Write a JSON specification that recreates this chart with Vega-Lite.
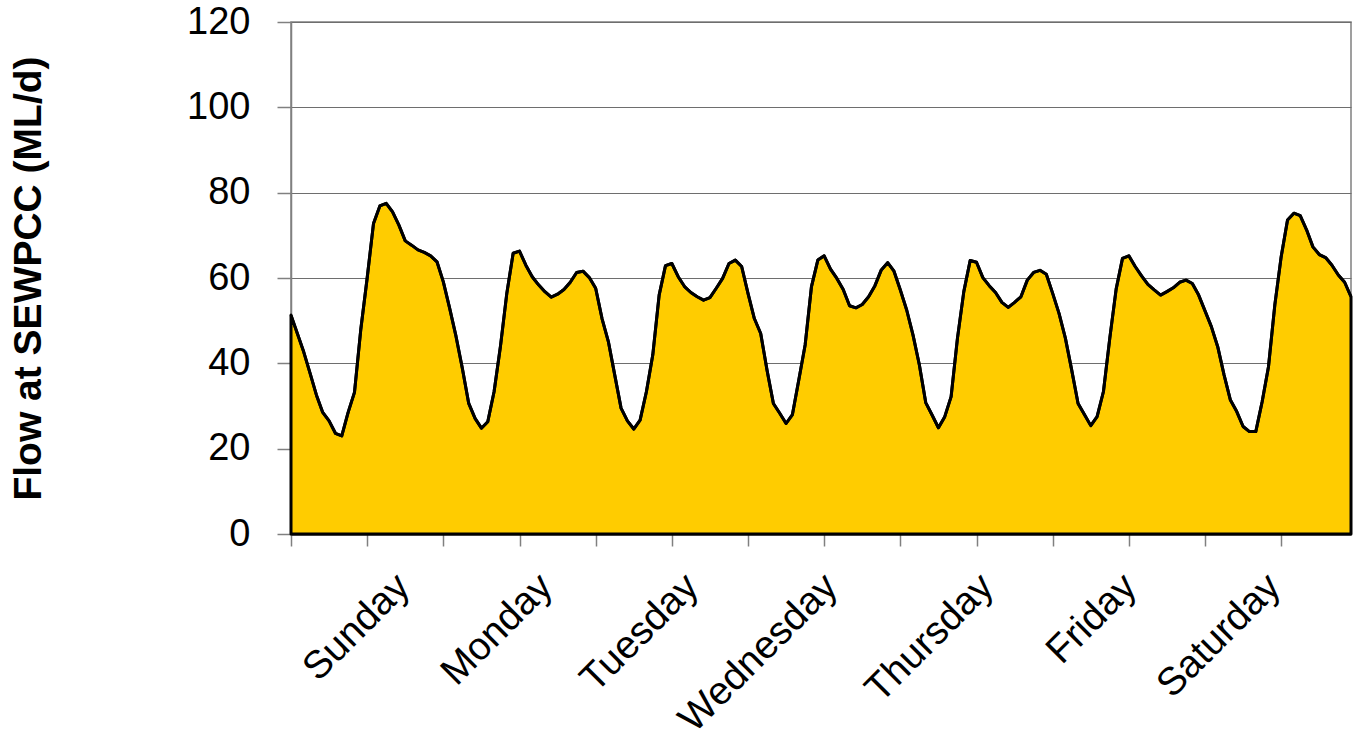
{
  "$schema": "https://vega.github.io/schema/vega-lite/v6.json",
  "autosize": {"type": "none"},
  "width": 1060,
  "height": 512,
  "padding": {"left": 291, "top": 22, "right": 9, "bottom": 213},
  "background": "white",
  "config": {"view": {"stroke": "#808080", "strokeWidth": 1.5}, "font": "Liberation Sans"},
  "data": {"values": [
    {"h":0,"flow":51.3},{"h":1,"flow":47},{"h":2,"flow":42.7},{"h":3,"flow":37.7},{"h":4,"flow":32.6},{"h":5,"flow":28.5},{"h":6,"flow":26.5},{"h":7,"flow":23.6},{"h":8,"flow":23},{"h":9,"flow":28.5},
    {"h":10,"flow":33.2},{"h":11,"flow":48},{"h":12,"flow":60},{"h":13,"flow":72.8},{"h":14,"flow":76.9},{"h":15,"flow":77.5},{"h":16,"flow":75.5},{"h":17,"flow":72.4},{"h":18,"flow":68.7},{"h":19,"flow":67.7},
    {"h":20,"flow":66.6},{"h":21,"flow":66},{"h":22,"flow":65.2},{"h":23,"flow":63.8},{"h":24,"flow":59.1},{"h":25,"flow":52.9},{"h":26,"flow":46.3},{"h":27,"flow":38.8},{"h":28,"flow":30.6},{"h":29,"flow":27.1},
    {"h":30,"flow":24.8},{"h":31,"flow":26.3},{"h":32,"flow":33.4},{"h":33,"flow":44},{"h":34,"flow":56.4},{"h":35,"flow":65.8},{"h":36,"flow":66.3},{"h":37,"flow":63},{"h":38,"flow":60.3},{"h":39,"flow":58.4},
    {"h":40,"flow":56.8},{"h":41,"flow":55.5},{"h":42,"flow":56.2},{"h":43,"flow":57.3},{"h":44,"flow":59},{"h":45,"flow":61.3},{"h":46,"flow":61.6},{"h":47,"flow":60.1},{"h":48,"flow":57.6},{"h":49,"flow":50.5},
    {"h":50,"flow":45.1},{"h":51,"flow":37.3},{"h":52,"flow":29.5},{"h":53,"flow":26.5},{"h":54,"flow":24.6},{"h":55,"flow":26.7},{"h":56,"flow":33.4},{"h":57,"flow":42},{"h":58,"flow":56},{"h":59,"flow":62.9},
    {"h":60,"flow":63.4},{"h":61,"flow":60.3},{"h":62,"flow":58},{"h":63,"flow":56.6},{"h":64,"flow":55.6},{"h":65,"flow":54.8},{"h":66,"flow":55.4},{"h":67,"flow":57.6},{"h":68,"flow":59.9},{"h":69,"flow":63.4},
    {"h":70,"flow":64.2},{"h":71,"flow":62.7},{"h":72,"flow":56.4},{"h":73,"flow":50.5},{"h":74,"flow":47},{"h":75,"flow":38.4},{"h":76,"flow":30.6},{"h":77,"flow":28.3},{"h":78,"flow":25.9},{"h":79,"flow":28},
    {"h":80,"flow":36.1},{"h":81,"flow":44.3},{"h":82,"flow":58},{"h":83,"flow":64.2},{"h":84,"flow":65.2},{"h":85,"flow":62.1},{"h":86,"flow":59.9},{"h":87,"flow":57.3},{"h":88,"flow":53.5},{"h":89,"flow":53},
    {"h":90,"flow":53.8},{"h":91,"flow":55.6},{"h":92,"flow":58.2},{"h":93,"flow":61.9},{"h":94,"flow":63.6},{"h":95,"flow":61.6},{"h":96,"flow":57.2},{"h":97,"flow":52.5},{"h":98,"flow":46.6},{"h":99,"flow":39.6},
    {"h":100,"flow":30.8},{"h":101,"flow":27.9},{"h":102,"flow":24.9},{"h":103,"flow":27.5},{"h":104,"flow":32.2},{"h":105,"flow":45.9},{"h":106,"flow":56.8},{"h":107,"flow":64.1},{"h":108,"flow":63.7},{"h":109,"flow":60.1},
    {"h":110,"flow":58.2},{"h":111,"flow":56.6},{"h":112,"flow":54.3},{"h":113,"flow":53.1},{"h":114,"flow":54.3},{"h":115,"flow":55.6},{"h":116,"flow":59.5},{"h":117,"flow":61.3},{"h":118,"flow":61.8},{"h":119,"flow":60.9},
    {"h":120,"flow":56.4},{"h":121,"flow":51.7},{"h":122,"flow":45.9},{"h":123,"flow":38.4},{"h":124,"flow":30.6},{"h":125,"flow":28},{"h":126,"flow":25.4},{"h":127,"flow":27.5},{"h":128,"flow":33.4},{"h":129,"flow":45.9},
    {"h":130,"flow":57.4},{"h":131,"flow":64.6},{"h":132,"flow":65.2},{"h":133,"flow":62.7},{"h":134,"flow":60.5},{"h":135,"flow":58.5},{"h":136,"flow":57.2},{"h":137,"flow":56},{"h":138,"flow":56.8},{"h":139,"flow":57.7},
    {"h":140,"flow":59},{"h":141,"flow":59.5},{"h":142,"flow":58.7},{"h":143,"flow":56},{"h":144,"flow":52.3},{"h":145,"flow":48.6},{"h":146,"flow":43.9},{"h":147,"flow":37.3},{"h":148,"flow":31.4},{"h":149,"flow":28.7},
    {"h":150,"flow":25.2},{"h":151,"flow":24},{"h":152,"flow":24},{"h":153,"flow":31},{"h":154,"flow":39.2},{"h":155,"flow":53.7},{"h":156,"flow":65},{"h":157,"flow":73.6},{"h":158,"flow":75.2},{"h":159,"flow":74.6},
    {"h":160,"flow":71.3},{"h":161,"flow":67.3},{"h":162,"flow":65.5},{"h":163,"flow":64.8},{"h":164,"flow":63},{"h":165,"flow":60.7},{"h":166,"flow":59},{"h":167,"flow":55.6}
  ]},
  "layer": [
    {
      "mark": {"type": "area", "color": "#FFCC00", "stroke": "#000000", "strokeWidth": 3, "strokeJoin": "round"},
      "encoding": {
        "x": {"field": "h", "type": "quantitative", "scale": {"domain": [0, 167], "nice": false, "zero": false},
          "axis": {"orient": "bottom", "values": [0,12,24,36,48,60,72,84,96,108,120,132,144,156], "labels": false, "ticks": true, "tickSize": 12, "tickColor": "#808080", "tickWidth": 1.5, "domainColor": "#000000", "domainWidth": 2, "grid": false, "title": null}},
        "y": {"field": "flow", "type": "quantitative", "scale": {"domain": [0, 120], "nice": false},
          "axis": {"values": [0,20,40,60,80,100,120], "grid": true, "gridColor": "#6e6e6e", "gridWidth": 1.2, "tickSize": 14, "tickColor": "#808080", "tickWidth": 1.5, "domainColor": "#808080", "domainWidth": 1.5, "labelFontSize": 38, "labelPadding": 27, "labelColor": "#000000", "title": "Flow at SEWPCC (ML/d)", "titleFontSize": 39, "titleFontWeight": "bold", "titlePadding": 138, "titleColor": "#000000"}}
      }
    },
    {
      "mark": {"type": "line", "color": "#000000", "strokeWidth": 3, "strokeJoin": "round"},
      "encoding": {
        "x": {"field": "h", "type": "quantitative",
          "axis": {"orient": "bottom", "values": [17.6, 40.1, 63.1, 85.0, 109.6, 132.1, 154.8],
            "labelExpr": "datum.value < 30 ? 'Sunday' : datum.value < 53 ? 'Monday' : datum.value < 75 ? 'Tuesday' : datum.value < 99 ? 'Wednesday' : datum.value < 122 ? 'Thursday' : datum.value < 145 ? 'Friday' : 'Saturday'",
            "ticks": false, "tickSize": 0, "domain": false, "grid": false, "labelAngle": -45, "labelAlign": "right", "labelBaseline": "middle", "labelFontSize": 39, "labelPadding": 46, "labelLimit": 0, "labelColor": "#000000", "labelOverlap": false, "labelFlush": false, "labelBound": false, "title": null}},
        "y": {"field": "flow", "type": "quantitative"}
      }
    }
  ],
  "resolve": {"axis": {"x": "independent"}}
}
